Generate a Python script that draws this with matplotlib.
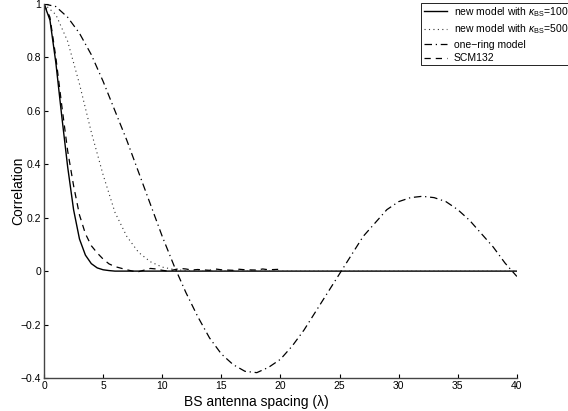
import matplotlib
matplotlib.use("Agg")
import matplotlib.pyplot as plt
from matplotlib.ticker import FuncFormatter

plt.rcParams['font.family'] = ['Liberation Sans', 'DejaVu Sans']
plt.rcParams['mathtext.fontset'] = 'custom'
plt.rcParams['mathtext.rm'] = 'Liberation Sans'
plt.rcParams['mathtext.it'] = 'Liberation Sans:italic'

# new model, kappa_BS = 100
x_k100 = [0, 0.5, 1, 1.5, 2, 2.5, 3, 3.5, 4, 4.5, 5, 5.5, 6, 7, 10, 20, 30, 40]
y_k100 = [1.0, 0.94, 0.78, 0.58, 0.39, 0.23, 0.12, 0.06, 0.028, 0.012, 0.005, 0.002, 0.0, 0.0, 0.0, 0.0, 0.0, 0.0]

# new model, kappa_BS = 500
x_k500 = [0, 1, 2, 3, 4, 5, 6, 7, 8, 9, 10, 11, 12, 13, 20, 30, 40]
y_k500 = [1.0, 0.96, 0.86, 0.70, 0.52, 0.36, 0.22, 0.13, 0.07, 0.035, 0.015, 0.006, 0.002, 0.0, 0.0, 0.0, 0.0]

# one-ring model
x_ring = list(range(0, 41))
y_ring = [1.0, 0.99, 0.95, 0.89, 0.81, 0.71, 0.60, 0.49, 0.37, 0.25,
          0.13, 0.02, -0.08, -0.17, -0.25, -0.31, -0.35, -0.375, -0.38, -0.36,
          -0.33, -0.28, -0.22, -0.15, -0.08, -0.01, 0.06, 0.13, 0.18, 0.23,
          0.26, 0.275, 0.28, 0.275, 0.26, 0.23, 0.19, 0.14, 0.09, 0.03, -0.02]

# SCM132
x_scm = [0, 0.5, 1, 1.5, 2, 2.5, 3, 3.5, 4, 4.5, 5, 5.5, 6, 6.5, 7, 7.5, 8, 8.5, 9, 9.5,
         10, 10.5, 11, 11.5, 12, 12.5, 13, 14, 14.5, 15, 16, 16.5, 17, 18, 18.5, 19, 20]
y_scm = [1.0, 0.95, 0.80, 0.62, 0.45, 0.32, 0.21, 0.14, 0.095, 0.068, 0.045, 0.027, 0.017, 0.011, 0.005, 0.0, -0.002, 0.004, 0.01, 0.008,
         0.003, 0.0, 0.005, 0.01, 0.008, 0.004, 0.006, 0.003, 0.008, 0.005, 0.003, 0.007, 0.005, 0.004, 0.008, 0.005, 0.007]

x_ticks = [0, 5, 10, 15, 20, 25, 30, 35, 40]
y_ticks = [-0.4, -0.2, 0, 0.2, 0.4, 0.6, 0.8, 1]

fig = plt.figure(figsize=(5.68, 4.11), dpi=100)
ax = fig.add_axes([0.0775, 0.0803, 0.8325, 0.9102])

ax.plot(x_k100, y_k100, color='black', lw=1.0, linestyle='-',
        label=r'new model with $\kappa_{\mathrm{BS}}$=100')
ax.plot(x_k500, y_k500, color='#333333', lw=0.8, linestyle=(0, (1, 3)),
        label=r'new model with $\kappa_{\mathrm{BS}}$=500')
ax.plot(x_ring, y_ring, color='black', lw=0.9, linestyle=(0, (6, 3, 1, 3)),
        label='one\u2212ring model')
ax.plot(x_scm, y_scm, color='black', lw=0.9, linestyle=(0, (5, 4)),
        label='SCM132')

ax.set_xlim(0, 40)
ax.set_ylim(-0.4, 1)
ax.set_xticks(x_ticks)
ax.set_yticks(y_ticks)
ax.yaxis.set_major_formatter(FuncFormatter(lambda v, p: ('%g' % round(v, 2)).replace('-', '\u2212')))
ax.tick_params(direction='in', length=3, width=0.8, labelsize=7.5, colors='black', pad=2)
for s in ['top', 'right']:
    ax.spines[s].set_visible(False)
for s in ['left', 'bottom']:
    ax.spines[s].set_color('#444444')
    ax.spines[s].set_linewidth(1.0)

ax.set_xlabel('BS antenna spacing (\u03bb)', fontsize=10)
ax.xaxis.set_label_coords(0.45, -0.045)
ax.set_ylabel('Correlation', fontsize=10)
ax.yaxis.set_label_coords(-0.04, 0.5)

leg = fig.legend(loc='upper left', bbox_to_anchor=(0.742, 0.9934), fontsize=7.5,
                 frameon=True, fancybox=False, edgecolor='black', framealpha=1,
                 borderpad=0.2, handlelength=2.3, handletextpad=0.6,
                 labelspacing=0.35, borderaxespad=0)
leg.get_frame().set_linewidth(0.6)

fig.savefig('out.png', dpi=100)
